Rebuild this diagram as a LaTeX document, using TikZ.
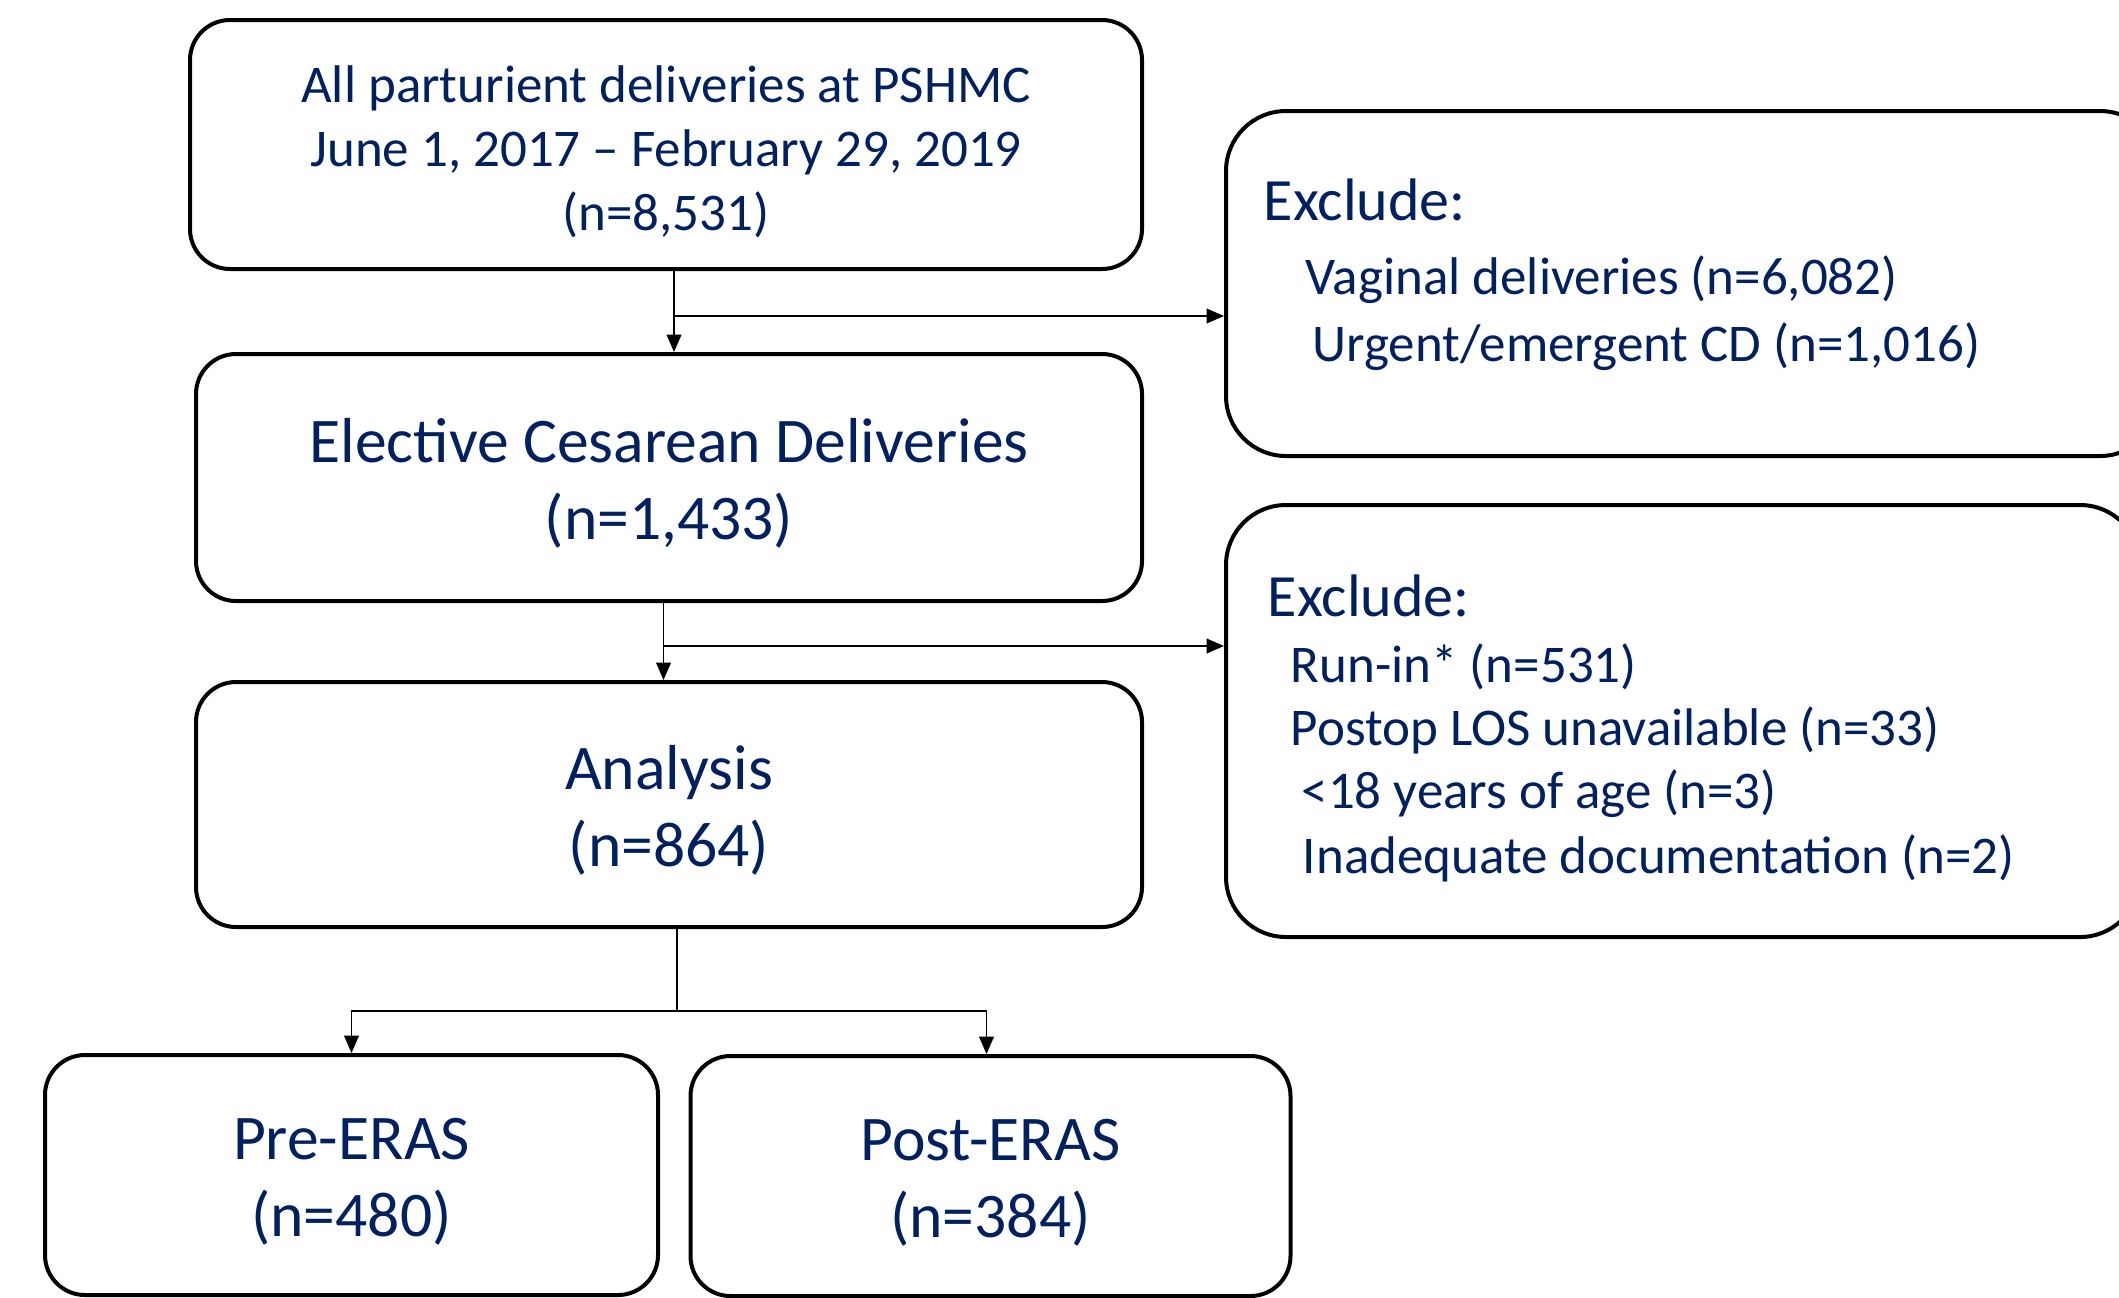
\documentclass[tikz,border=0pt]{standalone}
\usepackage{fontspec}
\setmainfont{Carlito}
\usepackage{xcolor}
\usetikzlibrary{arrows.meta}
\definecolor{navy}{HTML}{002060}

\begin{document}
\begin{tikzpicture}[x=0.75pt,y=0.75pt,yscale=-1,xscale=1,
  box/.style={draw, line width=3pt, rounded corners=30pt, inner sep=0pt},
  exbox/.style={draw, line width=3pt, rounded corners=45pt, inner sep=0pt},
  txt/.style={align=center, text=navy, inner sep=0pt, font=\fontsize{47.7}{58}\selectfont},
  item/.style={anchor=west, inner sep=0pt, text=navy, font=\fontsize{39.75}{48}\selectfont},
  head/.style={item, font=\fontsize{45}{54}\selectfont},
  arr/.style={line width=1.2pt, -{Triangle[length=13pt,width=11pt]}}]
\useasboundingbox (0,0) rectangle (2119,1297);

%Main boxes
\node[box, minimum width=714pt, minimum height=186.75pt] (all) at (666,144.5) {};
\node[txt, font=\fontsize{39.75}{48}\selectfont] (alltxt) at (666,151.5) {All parturient deliveries at PSHMC\\June 1, 2017 \textendash{} February 29, 2019\\(n=8,531)};
\node[box, minimum width=709.5pt, minimum height=185.25pt] (elective) at (669,477.5) {};
\node[txt] (electivetxt) at (669,483) {Elective Cesarean Deliveries\\(n=1,433)};
\node[box, minimum width=709.5pt, minimum height=183.75pt] (analysis) at (669,804.5) {};
\node[txt] (analysistxt) at (669,810) {Analysis\\(n=864)};
\node[box, minimum width=459.75pt, minimum height=180pt] (pre) at (351.5,1175) {};
\node[txt] (pretxt) at (351.5,1182) {Pre-ERAS\\(n=480)};
\node[box, minimum width=450pt, minimum height=180pt] (post) at (990.5,1176) {};
\node[txt] (posttxt) at (990.5,1183) {Post-ERAS\\(n=384)};

%Exclusion boxes
\node[exbox, minimum width=700.5pt, minimum height=258.75pt] (exA) at (1693,283.5) {};
\node[head] (exAhead) at (1263.5,200) {Exclude:};
\node[item] (vaginal) at (1305.5,280) {Vaginal deliveries (n=6,082)};
\node[item] (urgent) at (1312,347) {Urgent/emergent CD (n=1,016)};

\node[exbox, minimum width=685.5pt, minimum height=324pt] (exB) at (1683,721) {};
\node[head] (exBhead) at (1267.6,596) {Exclude:};
\node[item] (runin) at (1290.6,667) {Run-in* (n=531)};
\node[item] (postop) at (1290.6,730) {Postop LOS unavailable (n=33)};
\node[item] (age) at (1301.4,794) {<18 years of age (n=3)};
\node[item] (docs) at (1302.7,858.5) {Inadequate documentation (n=2)};

%Connectors
\coordinate (d1) at (674,316);
\draw[arr] (all.south -| d1) -- (elective.north -| d1);
\draw[arr] (d1) -- (d1 -| exA.west);

\coordinate (d2) at (663.5,646);
\draw[arr] (elective.south -| d2) -- (analysis.north -| d2);
\draw[arr] (d2) -- (d2 -| exB.west);

\coordinate (split) at (677,1011);
\draw[line width=1.2pt] (analysis.south -| split) -- (split);
\draw[arr] (split) -| (pre.north);
\draw[arr] (split) -| ([xshift=-3pt]post.north);

\end{tikzpicture}
\end{document}
